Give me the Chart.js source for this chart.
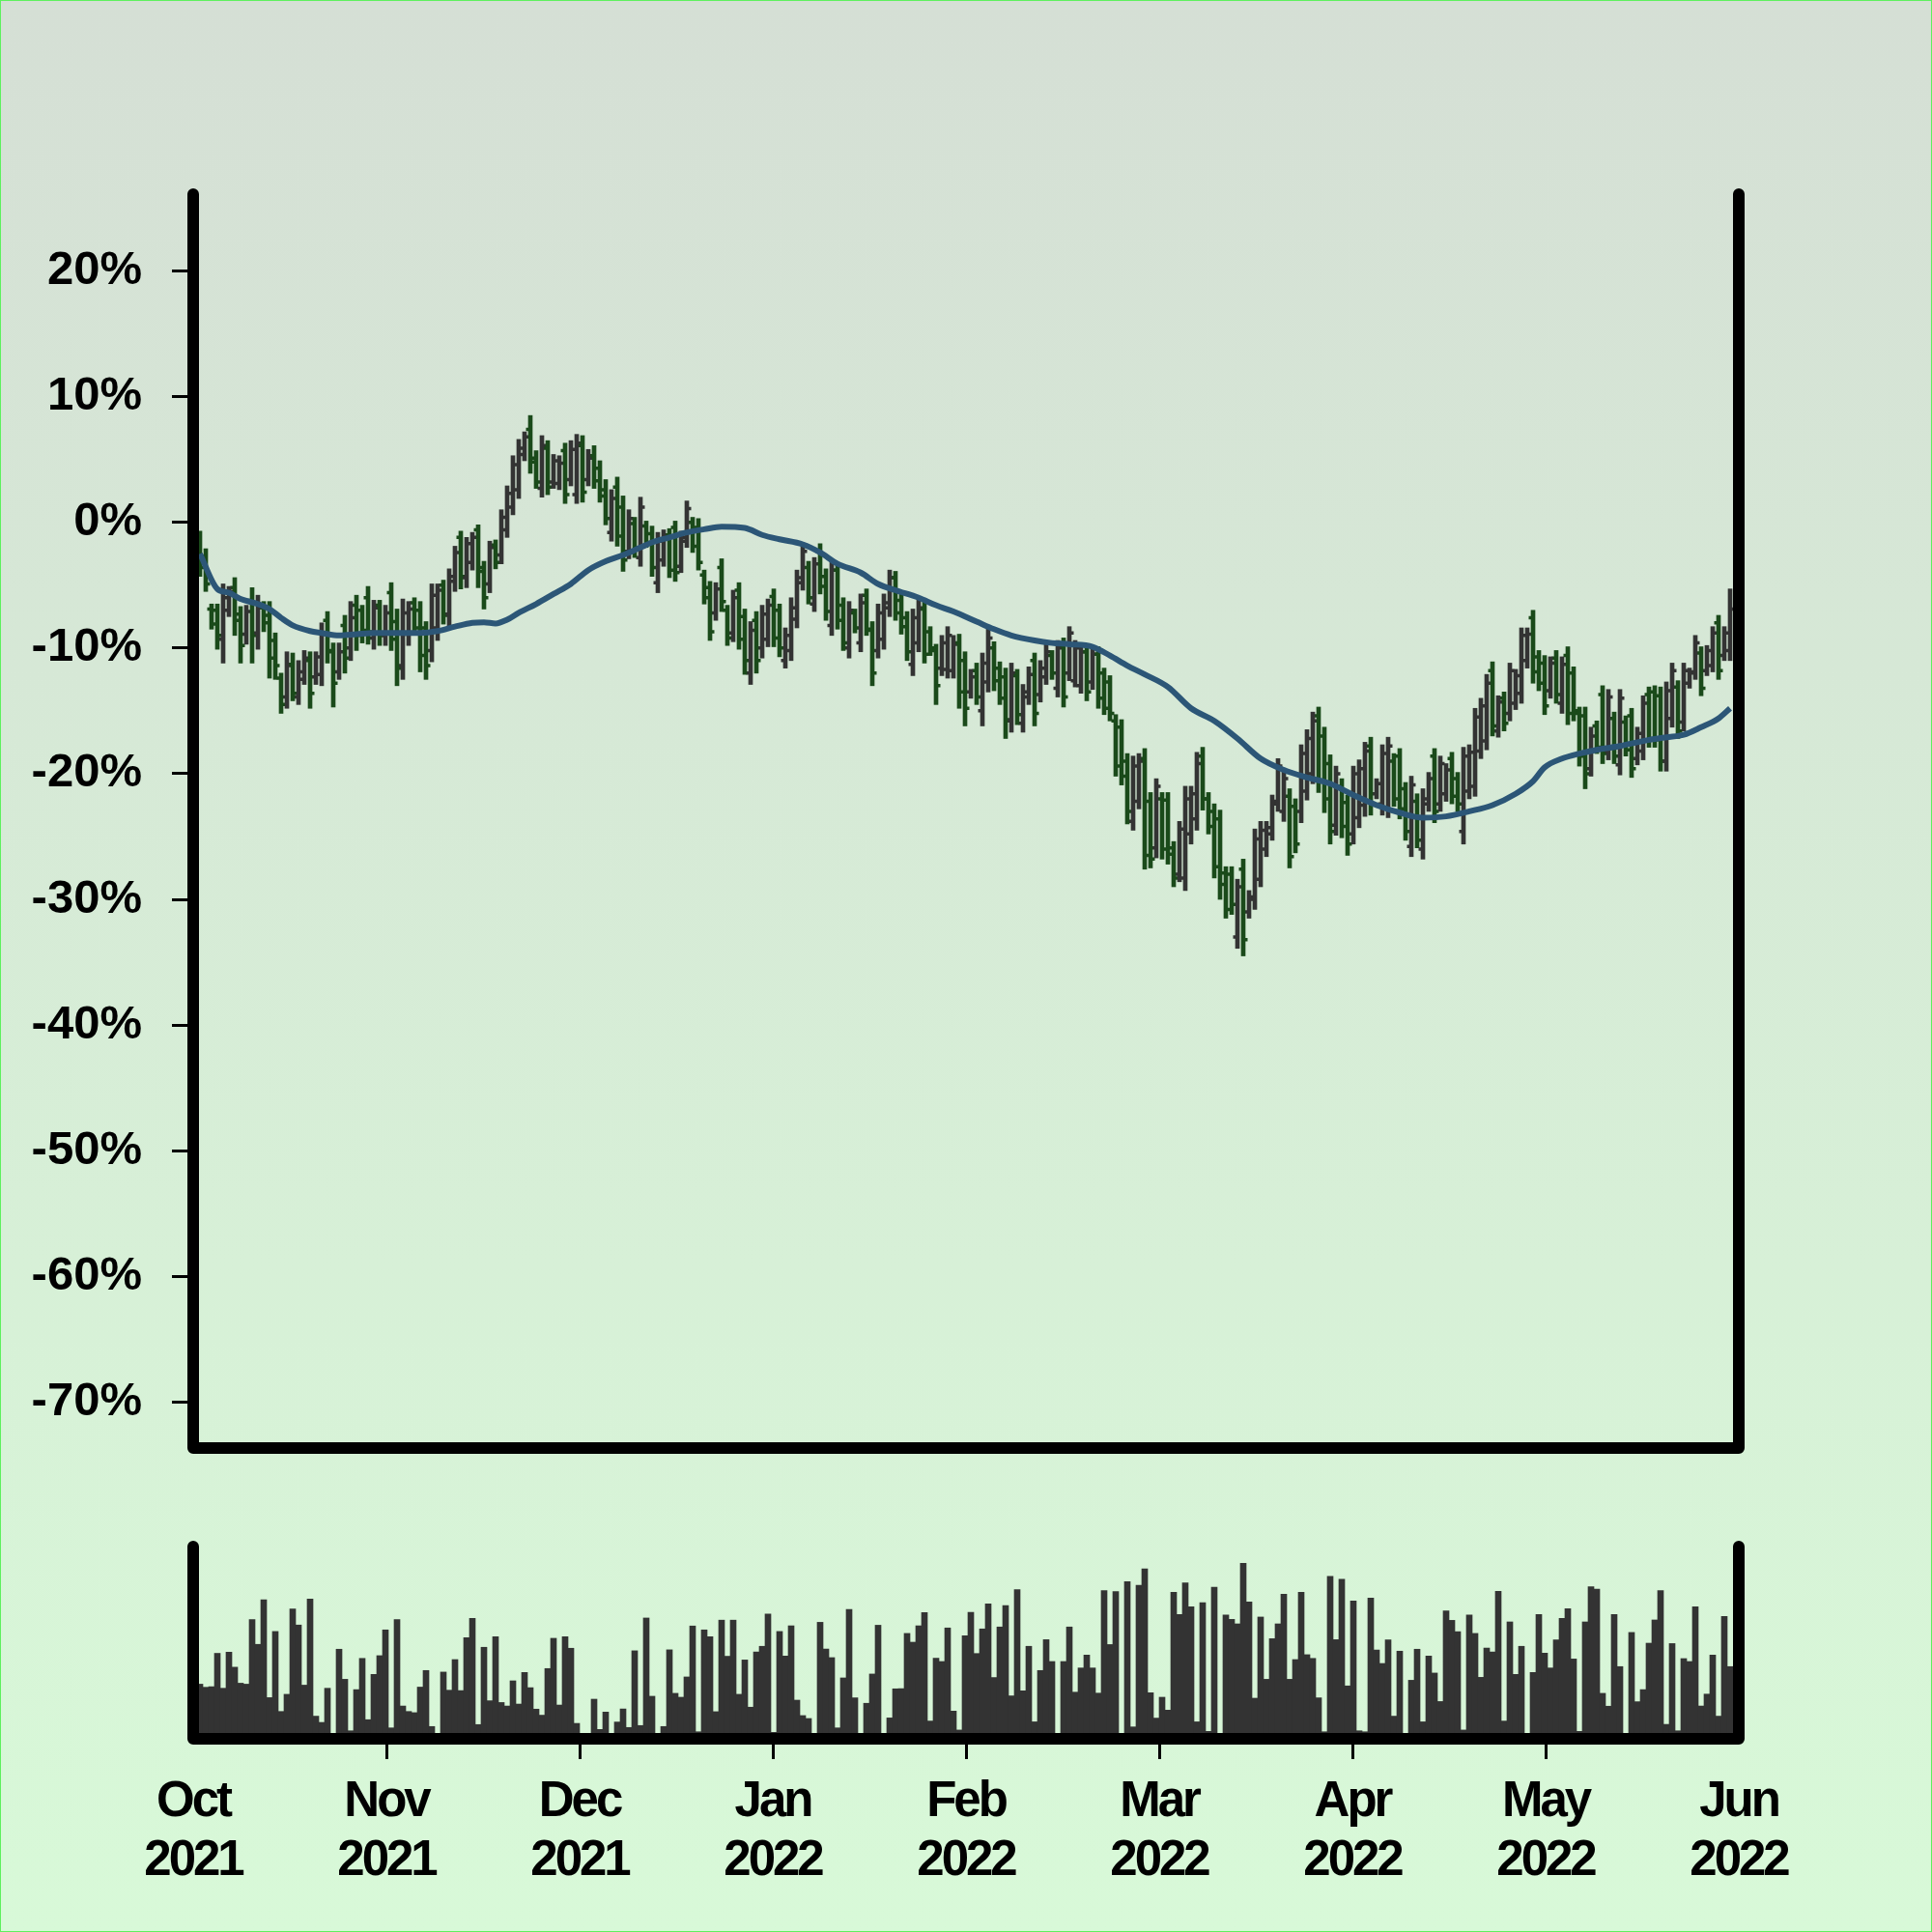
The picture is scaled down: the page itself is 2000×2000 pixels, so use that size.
<!doctype html>
<html>
<head>
<meta charset="utf-8"/>
<title>OHLC % change</title>
<script src="https://cdn.jsdelivr.net/npm/chart.js@4.4.0/dist/chart.umd.min.js"></script>
<style>
  html,body{margin:0;padding:0}
  .page{position:relative;width:2000px;height:2000px;overflow:hidden;
    background:linear-gradient(180deg,#d5dfd5 0%,#d8f9d8 100%);box-shadow:inset 0 0 0 1px #5ef05e}
  canvas{position:absolute;left:0}
  #price{top:0}
  #vol{top:1560px}
</style>
</head>
<body>
<div class="page">
  <canvas id="price" width="2000" height="1560"></canvas>
  <canvas id="vol" width="2000" height="440"></canvas>
</div>
<script>
// daily bars, % change; index 0 = first bar
const opens = [
  -1.5,-2.7,-6.9,-7.0,-9.3,-7.0,-5.2,-7.3,-8.9,-6.2,
  -8.8,-6.8,-7.4,-9.4,-12.4,-13.9,-11.3,-13.9,-12.5,-11.0,
  -12.3,-12.1,-7.8,-10.2,-11.9,-8.2,-10.0,-6.6,-7.0,-6.0,
  -9.2,-6.6,-9.0,-5.6,-7.9,-11.4,-8.9,-6.4,-7.0,-8.4,
  -10.2,-8.4,-5.0,-7.3,-4.7,-1.2,-4.4,-3.2,-0.6,-3.6,
  -4.9,-1.8,-2.6,-0.6,1.2,2.6,5.4,7.4,5.1,2.7,
  5.9,3.2,3.1,5.7,3.4,2.2,6.1,3.4,5.3,4.3,
  2.6,-0.8,2.8,1.2,-2.3,-0.1,-2.8,-0.3,-0.9,-4.8,
  -3.0,-1.0,-0.4,-3.5,-1.5,0.0,-0.4,-4.2,-5.2,-7.2,
  -3.6,-7.0,-8.8,-5.4,-7.5,-12.0,-7.8,-10.0,-9.3,-5.9,
  -7.0,-11.0,-10.2,-7.7,-4.8,-3.6,-6.5,-2.3,-4.3,-8.2,
  -3.8,-6.6,-10.0,-7.2,-9.6,-5.8,-8.6,-10.2,-9.3,-6.8,
  -4.4,-6.2,-7.6,-11.3,-9.6,-6.9,-8.7,-10.2,-11.6,-11.7,
  -11.8,-9.6,-11.0,-13.5,-11.8,-15.0,-12.7,-10.0,-11.6,-12.3,
  -15.8,-12.2,-16.0,-13.9,-11.0,-13.7,-12.3,-10.6,-13.2,-9.8,
  -12.0,-12.6,-13.0,-10.3,-12.7,-10.5,-12.0,-12.7,-15.8,-16.3,
  -19.0,-23.8,-22.2,-18.8,-22.2,-25.9,-22.0,-22.1,-25.9,-28.0,
  -28.3,-24.8,-23.6,-18.6,-22.0,-23.0,-23.6,-27.9,-28.0,-33.0,
  -27.6,-31.0,-30.0,-28.4,-26.0,-24.8,-22.4,-23.0,-21.8,-22.6,
  -23.0,-21.4,-20.0,-15.4,-17.0,-19.2,-24.1,-21.0,-22.3,-24.8,
  -23.5,-22.5,-17.8,-21.6,-22.4,-22.8,-19.0,-18.6,-21.2,-25.8,
  -22.2,-26.0,-22.4,-18.6,-22.4,-21.6,-18.8,-20.4,-24.6,-21.4,
  -21.0,-18.2,-17.4,-11.8,-16.6,-14.0,-15.2,-14.4,-13.6,-11.0,
  -7.6,-10.7,-11.2,-13.4,-10.8,-14.4,-10.6,-12.0,-15.2,-15.4,
  -19.6,-16.2,-13.7,-18.2,-15.6,-19.3,-15.9,-15.4,-18.8,-18.2,
  -13.7,-13.5,-13.8,-19.0,-15.6,-13.1,-15.9,-12.8,-12.0,-10.4,
  -11.8,-11.4,-8.0,-10.6,-10.2
];
const highs = [
  -0.7,-2.1,-6.5,-6.5,-4.9,-5.1,-4.4,-6.7,-6.6,-5.2,
  -5.8,-6.3,-6.3,-8.8,-12.0,-10.3,-10.4,-11.0,-10.2,-10.3,
  -10.3,-8.0,-7.1,-9.6,-9.6,-7.4,-6.3,-5.8,-6.6,-5.1,
  -6.2,-6.2,-6.6,-4.8,-6.9,-6.1,-6.3,-6.0,-6.3,-7.9,
  -4.9,-4.9,-4.6,-3.7,-1.9,-0.7,-1.2,-0.8,-0.2,-3.1,
  -1.5,-1.4,1.0,2.9,5.3,6.6,7.2,8.5,5.7,6.9,
  6.5,5.4,5.3,6.3,6.5,7.0,6.9,5.8,6.1,4.9,
  3.4,2.6,3.6,2.1,1.0,0.4,2.0,0.1,-0.3,-0.8,
  -0.6,-0.5,0.1,-0.7,1.7,0.4,0.3,-3.8,-4.7,-4.8,
  -2.9,-6.6,-5.4,-4.8,-6.9,-7.9,-7.1,-6.6,-6.1,-5.3,
  -6.5,-8.4,-6.0,-3.8,-1.9,-3.1,-2.8,-1.7,-3.7,-3.1,
  -3.3,-6.0,-6.3,-6.9,-5.7,-5.3,-7.9,-6.5,-5.7,-3.8,
  -3.9,-5.7,-7.1,-6.9,-6.1,-6.2,-8.3,-9.7,-9.0,-8.3,
  -9.0,-8.9,-10.3,-11.7,-11.2,-10.4,-8.4,-9.5,-11.1,-11.6,
  -11.2,-11.7,-12.9,-11.5,-10.4,-11.0,-9.7,-10.2,-9.4,-9.2,
  -8.3,-9.4,-9.7,-9.7,-9.9,-9.9,-11.6,-12.2,-15.3,-15.7,
  -18.4,-18.6,-18.4,-18.0,-21.5,-20.4,-21.5,-21.5,-25.4,-23.8,
  -21.0,-21.0,-18.3,-17.9,-21.5,-22.4,-22.9,-27.4,-27.4,-28.4,
  -26.8,-29.3,-24.4,-23.8,-23.8,-21.7,-18.8,-19.8,-21.2,-22.0,
  -17.7,-16.5,-15.1,-14.7,-16.3,-18.5,-19.4,-20.4,-21.7,-19.4,
  -18.9,-17.5,-17.1,-20.4,-17.7,-17.1,-18.4,-18.0,-20.7,-20.2,
  -21.6,-21.2,-19.9,-18.0,-18.6,-19.2,-18.3,-19.9,-17.9,-17.7,
  -14.8,-14.0,-12.1,-11.1,-13.8,-13.5,-11.2,-11.7,-8.4,-8.4,
  -7.0,-10.2,-10.6,-10.7,-10.2,-10.7,-9.9,-11.5,-14.7,-14.7,
  -16.3,-15.8,-13.0,-13.3,-15.1,-13.3,-15.4,-14.8,-16.3,-13.8,
  -13.1,-13.0,-13.1,-12.7,-11.2,-12.6,-11.2,-11.6,-9.0,-9.9,
  -9.8,-8.3,-7.4,-8.3,-5.3
];
const lows = [
  -4.3,-5.5,-8.5,-10.1,-11.2,-7.5,-9.0,-11.2,-9.7,-11.2,
  -10.1,-8.7,-12.4,-12.5,-15.2,-14.8,-14.2,-14.5,-12.9,-14.8,
  -12.9,-13.0,-11.2,-14.7,-12.5,-12.0,-11.0,-10.2,-9.6,-9.7,
  -10.1,-9.8,-9.8,-10.2,-13.0,-12.5,-9.8,-8.9,-11.9,-12.5,
  -11.1,-9.4,-8.1,-8.3,-5.5,-5.3,-5.2,-3.8,-5.2,-6.9,
  -5.6,-3.7,-3.3,-1.2,0.6,1.9,4.9,3.9,2.7,2.0,
  2.2,2.7,2.6,1.5,2.9,1.5,1.6,2.9,2.7,1.6,
  -0.2,-1.5,-1.9,-3.9,-2.9,-2.8,-3.5,-2.0,-4.3,-5.6,
  -3.5,-4.4,-4.7,-4.0,-2.0,-2.4,-3.8,-6.5,-9.4,-7.8,
  -7.1,-9.8,-9.5,-10.1,-12.1,-12.9,-12.0,-10.8,-9.9,-9.9,
  -10.7,-11.6,-11.0,-8.4,-5.4,-6.5,-7.1,-5.7,-7.8,-9.0,
  -8.5,-10.2,-10.8,-8.8,-10.3,-9.0,-13.0,-10.8,-10.1,-7.5,
  -7.8,-8.9,-11.0,-12.2,-10.3,-11.2,-10.6,-14.5,-12.2,-12.4,
  -12.4,-14.8,-16.2,-14.0,-14.5,-16.2,-13.5,-13.4,-14.5,-17.2,
  -16.7,-16.1,-16.7,-14.5,-16.2,-14.3,-12.9,-12.5,-13.9,-14.7,
  -12.6,-13.1,-13.6,-14.2,-13.3,-14.8,-15.3,-15.8,-20.2,-20.9,
  -24.0,-24.5,-22.8,-27.6,-27.5,-26.7,-26.8,-27.2,-29.0,-28.6,
  -29.3,-25.6,-24.5,-22.9,-24.8,-28.3,-30.0,-31.5,-31.2,-33.9,
  -34.5,-31.5,-30.8,-29.0,-26.6,-25.3,-23.0,-23.8,-27.5,-26.3,
  -23.9,-22.1,-20.8,-21.5,-23.1,-25.6,-24.9,-25.1,-26.5,-25.6,
  -24.3,-23.4,-23.3,-22.0,-23.3,-23.5,-22.6,-23.6,-25.3,-26.6,
  -25.9,-26.8,-23.0,-23.9,-23.0,-22.2,-22.4,-23.0,-25.6,-22.0,
  -21.8,-18.8,-18.1,-17.0,-17.1,-16.6,-15.8,-14.9,-14.4,-11.6,
  -12.8,-13.4,-15.3,-14.0,-14.4,-15.2,-16.1,-15.8,-19.4,-21.2,
  -20.2,-18.4,-19.2,-18.9,-19.2,-20.1,-18.6,-20.3,-19.3,-18.9,
  -17.9,-17.9,-19.8,-19.8,-16.3,-17.2,-16.6,-13.2,-12.5,-13.8,
  -12.2,-11.9,-12.5,-11.0,-11.0
];
const closes = [
  -3.6,-4.9,-8.1,-9.0,-6.0,-5.5,-7.8,-9.8,-7.1,-9.0,
  -6.7,-8.0,-10.8,-11.4,-14.5,-11.4,-13.6,-11.9,-10.8,-13.6,
  -10.7,-8.9,-10.3,-12.8,-10.3,-10.8,-7.6,-9.0,-8.6,-8.7,
  -6.8,-9.0,-7.2,-9.3,-11.6,-7.2,-6.9,-8.4,-10.6,-11.4,
  -5.8,-5.4,-7.4,-4.3,-2.4,-4.3,-1.7,-1.2,-3.9,-6.0,
  -2.0,-3.2,0.4,2.3,4.6,5.9,6.8,4.8,3.2,6.1,
  2.8,4.9,4.7,2.2,5.8,6.3,2.4,5.1,3.3,2.1,
  0.3,1.9,-1.1,-3.0,0.3,-2.2,1.2,-1.6,-3.6,-1.5,
  -1.1,-3.8,-4.0,-1.2,1.1,-1.9,-3.2,-6.0,-8.7,-5.3,
  -6.3,-9.2,-6.0,-9.3,-11.0,-8.6,-11.0,-7.3,-6.6,-9.2,
  -10.0,-9.0,-6.8,-4.4,-2.3,-6.0,-3.3,-5.1,-7.1,-3.8,
  -7.8,-9.6,-7.0,-8.4,-6.4,-8.5,-12.0,-7.2,-6.4,-4.4,
  -7.2,-8.3,-10.3,-7.6,-6.8,-10.5,-10.0,-13.0,-9.6,-9.0,
  -9.7,-13.5,-14.8,-12.3,-13.9,-11.2,-9.2,-12.6,-14.0,-15.7,
  -12.0,-15.3,-13.5,-12.1,-15.2,-11.6,-10.3,-12.0,-10.0,-13.9,
  -8.8,-10.0,-10.3,-13.5,-10.5,-14.0,-14.8,-15.2,-19.4,-20.2,
  -23.0,-19.4,-19.0,-26.5,-26.8,-21.0,-26.0,-26.4,-28.3,-24.4,
  -22.0,-21.6,-19.2,-22.0,-24.2,-27.4,-28.8,-30.8,-30.4,-29.0,
  -33.2,-29.8,-25.2,-24.5,-24.3,-22.2,-19.4,-20.4,-26.6,-25.6,
  -18.4,-17.2,-15.8,-20.6,-22.0,-24.6,-20.0,-24.2,-25.6,-20.0,
  -19.6,-18.2,-22.4,-20.8,-18.4,-17.8,-22.0,-22.8,-24.6,-20.9,
  -25.3,-22.0,-20.4,-23.0,-19.2,-19.7,-21.8,-22.4,-18.6,-18.3,
  -15.5,-14.6,-12.8,-16.2,-14.3,-16.0,-11.8,-12.2,-9.0,-8.9,
  -11.9,-12.8,-14.6,-11.2,-13.7,-11.3,-15.2,-15.0,-18.6,-20.0,
  -17.0,-17.9,-18.4,-13.9,-18.6,-14.0,-18.1,-19.6,-16.8,-14.4,
  -17.2,-17.3,-19.0,-13.4,-11.8,-16.6,-11.8,-11.9,-9.6,-13.2,
  -10.2,-8.8,-11.8,-8.8,-6.9
];
const volumes = [
  28.0,26.4,26.7,43.8,25.9,44.4,36.7,28.5,28.0,61.1,
  48.4,71.3,21.1,55.0,14.0,22.8,66.5,58.3,27.5,71.6,
  11.6,8.4,25.9,0,45.9,30.5,4.1,25.2,41.2,9.8,
  33.0,42.6,55.8,5.6,61.1,16.8,14.0,13.4,26.5,35.0,
  6.3,0,34.2,24.9,40.6,24.7,51.8,61.7,7.3,46.9,
  19.5,52.3,18.6,16.8,29.7,17.8,34.0,26.2,15.2,12.1,
  36.0,51.5,17.3,52.3,46.4,7.9,0,0,20.3,4.8,
  13.7,0,8.6,15.3,5.8,45.1,6.8,61.9,21.8,0,
  6.3,45.6,23.3,21.3,31.7,57.8,3.6,55.8,52.3,13.9,
  60.8,42.3,60.8,22.8,40.4,16.2,44.5,47.4,63.9,3.3,
  55.0,42.4,57.9,19.8,11.9,10.4,0,59.7,46.0,41.6,
  5.6,31.2,66.3,21.0,0,18.2,33.2,58.2,0,10.7,
  25.6,25.7,54.0,49.5,57.9,64.7,9.1,41.3,39.6,56.8,
  14.2,4.5,52.8,64.8,43.7,56.3,69.1,31.4,57.3,68.3,
  22.0,76.4,24.6,47.4,8.7,35.0,50.8,39.6,0,39.6,
  57.3,23.9,36.3,42.9,36.3,23.4,75.9,48.3,75.4,0,
  80.5,6.1,78.7,87.1,23.6,10.6,21.3,14.7,75.1,63.7,
  79.9,67.7,8.7,69.8,3.8,77.7,0,63.4,61.2,58.9,
  89.9,70.1,20.8,62.4,30.5,51.3,58.9,74.1,30.5,40.6,
  75.1,43.1,41.2,21.0,3.6,83.3,50.8,81.7,27.1,70.6,
  4.1,3.6,72.1,45.5,38.6,50.7,11.6,44.9,0,30.0,
  45.9,8.7,42.4,33.7,19.1,65.5,60.7,54.9,4.5,63.4,
  54.0,31.5,46.5,44.5,75.6,9.1,59.9,33.0,47.4,0,
  34.0,63.7,43.9,36.3,50.7,61.7,66.7,40.9,3.8,59.9,
  77.9,76.7,23.3,16.7,63.7,37.0,0,54.5,19.0,25.2,
  49.0,60.9,75.9,7.4,48.8,4.1,41.1,39.6,67.7,16.8,
  22.9,42.9,11.6,62.7,37.0
];
// moving average at these bar indexes
const maIdx = [0,3,5,7,10,12,14,16,19,21,24,27,30,35,38,41,44,47,49,51,53,55,58,61,64,67,70,73,76,78,
  81,84,87,90,94,97,100,104,107,110,114,117,120,124,127,130,134,137,140,144,147,150,154,157,160,163,
  167,171,175,179,183,187,191,195,199,203,207,211,215,219,223,227,230,232,235,238,241,245,249,253,256,259,262,264];
const maVals = [-2.5,-5.3,-5.6,-6.1,-6.5,-6.9,-7.6,-8.2,-8.65,-8.8,-9.0,-8.9,-8.8,-8.8,-8.8,-8.65,-8.3,-8.0,-7.95,-8.05,
  -7.75,-7.2,-6.5,-5.7,-4.9,-3.8,-3.1,-2.6,-2.0,-1.6,-1.2,-0.8,-0.55,-0.35,-0.45,-1.0,-1.35,-1.75,-2.4,-3.3,
  -4.0,-4.9,-5.4,-6.0,-6.6,-7.1,-7.9,-8.5,-9.0,-9.4,-9.6,-9.7,-9.9,-10.6,-11.4,-12.1,-13.1,-14.8,-15.8,-17.2,
  -18.8,-19.7,-20.3,-20.8,-21.7,-22.5,-23.1,-23.5,-23.4,-23.0,-22.5,-21.6,-20.6,-19.5,-18.8,-18.4,-18.1,-17.8,
  -17.4,-17.1,-16.9,-16.3,-15.6,-14.8];
const monthTicks = ['Oct','Nov','Dec','Jan','Feb','Mar','Apr','May','Jun'];
const yearTicks = ['2021','2021','2021','2022','2022','2022','2022','2022','2022'];
const pctTicks = [-70,-60,-50,-40,-30,-20,-10,0,10,20];

const UP = '#333333', DOWN = '#1a4a1a';
const X_MIN = -7/6, X_MAX = 265.5;
const FONT = "'Liberation Sans', Arial, Helvetica, sans-serif";
const barColors = closes.map((c, i) => c >= opens[i] ? UP : DOWN);

Chart.defaults.font.family = FONT;

// thick black frame, open at the top
const spines = {
  id: 'spines',
  afterDraw(chart) {
    const {ctx, chartArea: a} = chart;
    ctx.save();
    ctx.strokeStyle = '#000';
    ctx.lineWidth = 12;
    ctx.lineCap = 'round';
    ctx.lineJoin = 'round';
    ctx.beginPath();
    ctx.moveTo(a.left, a.top + 1);
    ctx.lineTo(a.left, a.bottom);
    ctx.lineTo(a.right, a.bottom);
    ctx.lineTo(a.right, a.top + 1);
    ctx.stroke();
    ctx.restore();
  }
};

// open tick left, close tick right
const ocTicks = {
  id: 'ocTicks',
  beforeDatasetsDraw(chart) {
    const {ctx, chartArea: a} = chart;
    const xs = chart.scales.x, ys = chart.scales.y;
    ctx.save();
    ctx.beginPath();
    ctx.rect(a.left, a.top, a.right - a.left, a.bottom - a.top);
    ctx.clip();
    ctx.lineWidth = 3.5;
    opens.forEach((o, i) => {
      const px = xs.getPixelForValue(i);
      const yo = ys.getPixelForValue(o), yc = ys.getPixelForValue(closes[i]);
      ctx.strokeStyle = barColors[i];
      ctx.beginPath();
      ctx.moveTo(px - 4.5, yo); ctx.lineTo(px, yo);
      ctx.moveTo(px, yc); ctx.lineTo(px + 4.5, yc);
      ctx.stroke();
    });
    ctx.restore();
  }
};

// x labels in the picture are set tight
const tightText = {
  id: 'tightText',
  beforeDraw(chart) { chart.ctx.letterSpacing = '-3px'; }
};

new Chart(document.getElementById('price'), {
  type: 'bar',
  data: {
    datasets: [
      {
        type: 'line', order: 0,
        data: maIdx.map((x, i) => ({x, y: maVals[i]})),
        borderColor: '#2c5677', borderWidth: 6, pointRadius: 0,
        cubicInterpolationMode: 'monotone'
      },
      {
        type: 'bar', order: 1,
        data: highs.map((h, i) => ({x: i, y: [lows[i], h]})),
        backgroundColor: barColors, barThickness: 4,
        borderWidth: 0, borderSkipped: false
      }
    ]
  },
  options: {
    responsive: false, animation: false, devicePixelRatio: 1,
    layout: {padding: {left: 0, right: 200, top: 200, bottom: 61}},
    plugins: {legend: {display: false}, tooltip: {enabled: false}},
    scales: {
      x: {type: 'linear', min: X_MIN, max: X_MAX, offset: false, display: false},
      y: {
        min: -73.66, max: 26.19,
        afterFit: s => { s.width = 200; },
        afterBuildTicks: s => { s.ticks = pctTicks.map(v => ({value: v})); },
        border: {display: false},
        grid: {drawOnChartArea: false, drawTicks: true, tickLength: 22, tickWidth: 3, color: '#000'},
        ticks: {padding: 31, color: '#000', font: {size: 49, weight: 'bold'}, callback: v => v + '%'}
      }
    }
  },
  plugins: [ocTicks, spines]
});

new Chart(document.getElementById('vol'), {
  type: 'bar',
  data: {
    datasets: [{
      data: volumes.map((v, i) => ({x: i, y: v})),
      backgroundColor: '#333333', borderWidth: 0,
      categoryPercentage: 1, barPercentage: 1
    }]
  },
  options: {
    responsive: false, animation: false, devicePixelRatio: 1,
    layout: {padding: {left: 200, right: 200, top: 40, bottom: 0}},
    plugins: {legend: {display: false}, tooltip: {enabled: false}},
    scales: {
      x: {
        type: 'linear', min: X_MIN, max: X_MAX, offset: false,
        afterFit: s => { s.height = 200; },
        afterBuildTicks: s => { s.ticks = monthTicks.map((m, k) => ({value: X_MIN + k * (X_MAX - X_MIN) / 8})); },
        border: {display: false},
        grid: {
          drawOnChartArea: false, offset: false, tickLength: 21, tickWidth: 3,
          // no marks under the two rounded corners
          tickColor: c => (c.index === 0 || c.index === monthTicks.length - 1) ? 'rgba(0,0,0,0)' : '#000'
        },
        ticks: {
          padding: 14, color: '#000', maxRotation: 0, autoSkip: false,
          font: {size: 51, weight: 'bold', lineHeight: 1.2},
          callback: (v, k) => [monthTicks[k], yearTicks[k]]
        }
      },
      y: {display: false, min: 0, max: 99}
    }
  },
  plugins: [tightText, spines]
});
</script>
</body>
</html>
